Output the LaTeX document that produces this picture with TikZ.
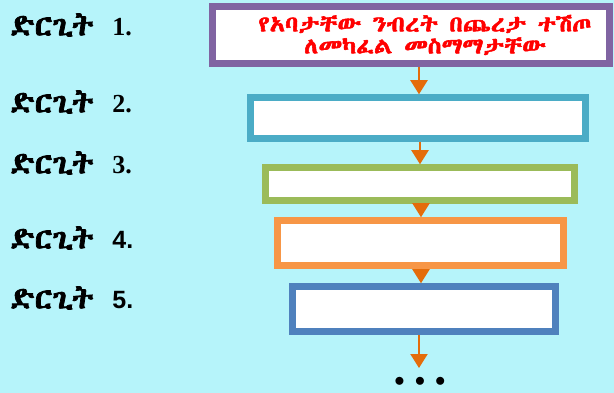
\documentclass[tikz,border=0pt]{standalone}
\usepackage{fontspec}
\usepackage{tikz}
\usetikzlibrary{arrows.meta}
\setmainfont{Liberation Serif}
\setsansfont{Liberation Sans}
\newcommand{\ethsetup}[1]{%
  \newfontfamily\ethfont[AutoFakeBold=2.5]{#1}%
  \newfontfamily\ethwide[AutoFakeBold=2.5,FakeStretch=1.15]{#1}}
\IfFontExistsTF{Abyssinica SIL}
  {\ethsetup{Abyssinica SIL}}
  {\IfFontExistsTF{Noto Sans Ethiopic}
    {\ethsetup{Noto Sans Ethiopic}}
    {\IfFontExistsTF{FreeSerif}
      {\ethsetup{FreeSerif}}
      {\ethsetup{DejaVu Sans}}}}
\definecolor{skybg}{HTML}{B6F4FA}
\definecolor{boxpurple}{HTML}{8064A2}
\definecolor{boxteal}{HTML}{4BACC6}
\definecolor{boxgreen}{HTML}{9BBB59}
\definecolor{boxorange}{HTML}{F79646}
\definecolor{boxblue}{HTML}{4F81BD}
\definecolor{arrorange}{HTML}{E46C0A}
\newcommand{\stepword}{ድርጊት\hspace{19pt}}
\newcommand{\numserif}{\rmfamily\bfseries\fontsize{26}{28}\selectfont}
\newcommand{\numsans}{\sffamily\fontsize{25}{28}\selectfont}

\begin{document}
\begin{tikzpicture}[x=1pt,y=-1pt,
    box/.style={draw,fill=white,line width=6.5pt,inner sep=0pt},
    arr/.style={-{Triangle[width=17pt,length=14pt]},line width=2pt,draw=arrorange},
    act/.style={anchor=west,inner sep=0pt,font=\ethfont\bfseries\fontsize{30}{32}\selectfont}]
  \fill[skybg] (0,0) rectangle (614,393);
  \useasboundingbox (0,0) rectangle (614,393);

  % steps on the left
  \node[act] (a1) at (10,25) {\stepword{\numserif 1.}};
  \node[act] (a2) at (10,102) {\stepword{\numserif 2.}};
  \node[act] (a3) at (10,163) {\stepword{\numserif 3.}};
  \node[act] (a4) at (10,238) {\stepword{\numsans 4.}};
  \node[act] (a5) at (10,298) {\stepword{\numsans 5.}};

  % boxes
  \node[box,draw=boxpurple,minimum width=397pt,minimum height=57pt,align=center,
        text=red,font=\ethwide\bfseries\fontsize{22}{22}\selectfont] (b1) at (411,35)
        {\hspace*{28pt}የአባታቸው ንብረት በጨረታ ተሽጦ\\\hspace*{28pt}ለመካፈል መስማማታቸው};
  \node[box,draw=boxteal,minimum width=335pt,minimum height=41pt] (b2) at (418,118) {};
  \node[box,draw=boxgreen,minimum width=309pt,minimum height=33pt] (b3) at (420,184) {};
  \node[box,draw=boxorange,minimum width=286pt,minimum height=45pt] (b4) at (420.5,243) {};
  \node[box,draw=boxblue,minimum width=263pt,minimum height=45pt] (b5) at (424,309) {};

  \node (more) at (420,382) {\fontsize{22}{22}\selectfont$\bullet$\hspace{10pt}$\bullet$\hspace{10pt}$\bullet$};
  \coordinate (end) at (419,368);

  \draw[arr] (b1.south -| 419,0) -- (b2.north -| 419,0);
  \draw[arr] (b2.south -| 420,0) -- (b3.north -| 420,0);
  \draw[arr] (b3.south -| 421,0) -- (b4.north -| 421,0);
  \draw[arr] (b4.south -| 421,0) -- (b5.north -| 421,0);
  \draw[arr] (b5.south -| end) -- (end);
\end{tikzpicture}
\end{document}
